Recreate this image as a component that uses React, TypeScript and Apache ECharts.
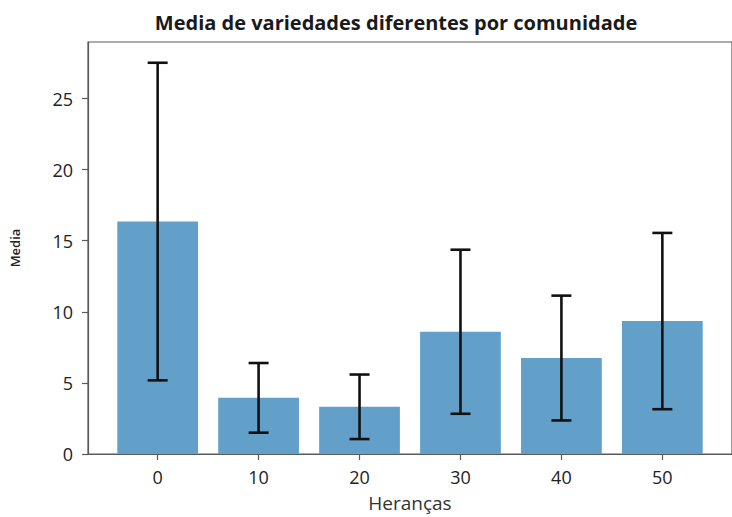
import React, { useEffect, useRef } from "react";
import * as echarts from "echarts";

const categories = [0, 10, 20, 30, 40, 50];
const means = [16.35, 3.95, 3.32, 8.6, 6.75, 9.35];
const errors = [11.17, 2.45, 2.27, 5.77, 4.39, 6.2];
const xTicks = [0, 10, 20, 30, 40, 50];
const barWidthUnits = 8;

export default function App() {
  const ref = useRef<HTMLDivElement>(null);
  useEffect(() => {
    if (!ref.current) return;
    const chart = echarts.init(ref.current, null, { renderer: "svg" });
    const axisColor = "#5a5a5a";
    const barData = categories.map((c, i) => [c, means[i]]);
    const errData = categories.map((c, i) => [c, means[i] - errors[i], means[i] + errors[i]]);
    chart.setOption({
      animation: false,
      backgroundColor: "#ffffff",
      title: {
        text: "Media de variedades diferentes por comunidade",
        left: 391,
        top: 7,
        textAlign: "center",
        textStyle: { fontFamily: "Open Sans", fontWeight: "bold", fontSize: 20, color: "#1a1a1a" },
      },
      grid: {
        left: 88,
        top: 42,
        width: 655,
        height: 415,
        show: true,
        borderColor: axisColor,
        borderWidth: 1.2,
        backgroundColor: "transparent",
      },
      xAxis: {
        type: "value",
        min: -6.9,
        max: 56.9,
        name: "Heranças",
        nameLocation: "middle",
        nameGap: 39,
        nameTextStyle: { fontFamily: "Open Sans", fontSize: 19, color: "#333" },
        axisLine: { show: true, onZero: false, lineStyle: { color: axisColor, width: 1.2 } },
        axisTick: { show: true, length: 6, lineStyle: { color: axisColor, width: 1.2 }, customValues: xTicks },
        axisLabel: {
          customValues: xTicks,
          margin: 14,
          fontFamily: "Open Sans",
          fontSize: 18,
          color: "#222",
        },
        splitLine: { show: false },
      },
      yAxis: {
        type: "value",
        min: 0,
        max: 28.98,
        interval: 5,
        name: "Media",
        nameLocation: "middle",
        nameGap: 67,
        nameTextStyle: { fontFamily: "Open Sans", fontSize: 13, fontWeight: 600, color: "#222" },
        axisLine: { show: true, onZero: false, lineStyle: { color: axisColor, width: 1.2 } },
        axisTick: { show: true, inside: false, length: 6, lineStyle: { color: axisColor, width: 1.2 } },
        axisLabel: {
          margin: 15,
          fontFamily: "Open Sans",
          fontSize: 18,
          color: "#222",
          showMaxLabel: false,
        },
        splitLine: { show: false },
      },
      series: [
        {
          type: "custom",
          name: "Media",
          data: barData,
          renderItem: (params: any, api: any) => {
            const x = api.value(0);
            const y = api.value(1);
            const p1 = api.coord([x - barWidthUnits / 2, y]);
            const p2 = api.coord([x + barWidthUnits / 2, 0]);
            return {
              type: "rect",
              shape: { x: p1[0], y: p1[1], width: p2[0] - p1[0], height: p2[1] - p1[1] },
              style: { fill: "#62a0ca" },
            };
          },
          z: 2,
        },
        {
          type: "custom",
          name: "Erro",
          data: errData,
          renderItem: (params: any, api: any) => {
            const x = api.value(0);
            const lo = api.coord([x, api.value(1)]);
            const hi = api.coord([x, api.value(2)]);
            const cap = 10;
            const style = { stroke: "#111", lineWidth: 2.6 };
            return {
              type: "group",
              children: [
                { type: "line", shape: { x1: lo[0], y1: lo[1], x2: hi[0], y2: hi[1] }, style },
                { type: "line", shape: { x1: hi[0] - cap, y1: hi[1], x2: hi[0] + cap, y2: hi[1] }, style },
                { type: "line", shape: { x1: lo[0] - cap, y1: lo[1], x2: lo[0] + cap, y2: lo[1] }, style },
              ],
            };
          },
          z: 3,
        },
      ],
    });
    return () => chart.dispose();
  }, []);
  return (
    <div
      ref={ref}
      style={{ position: "fixed", left: 0, top: 0, width: 732, height: 517, background: "#fff" }}
    />
  );
}
